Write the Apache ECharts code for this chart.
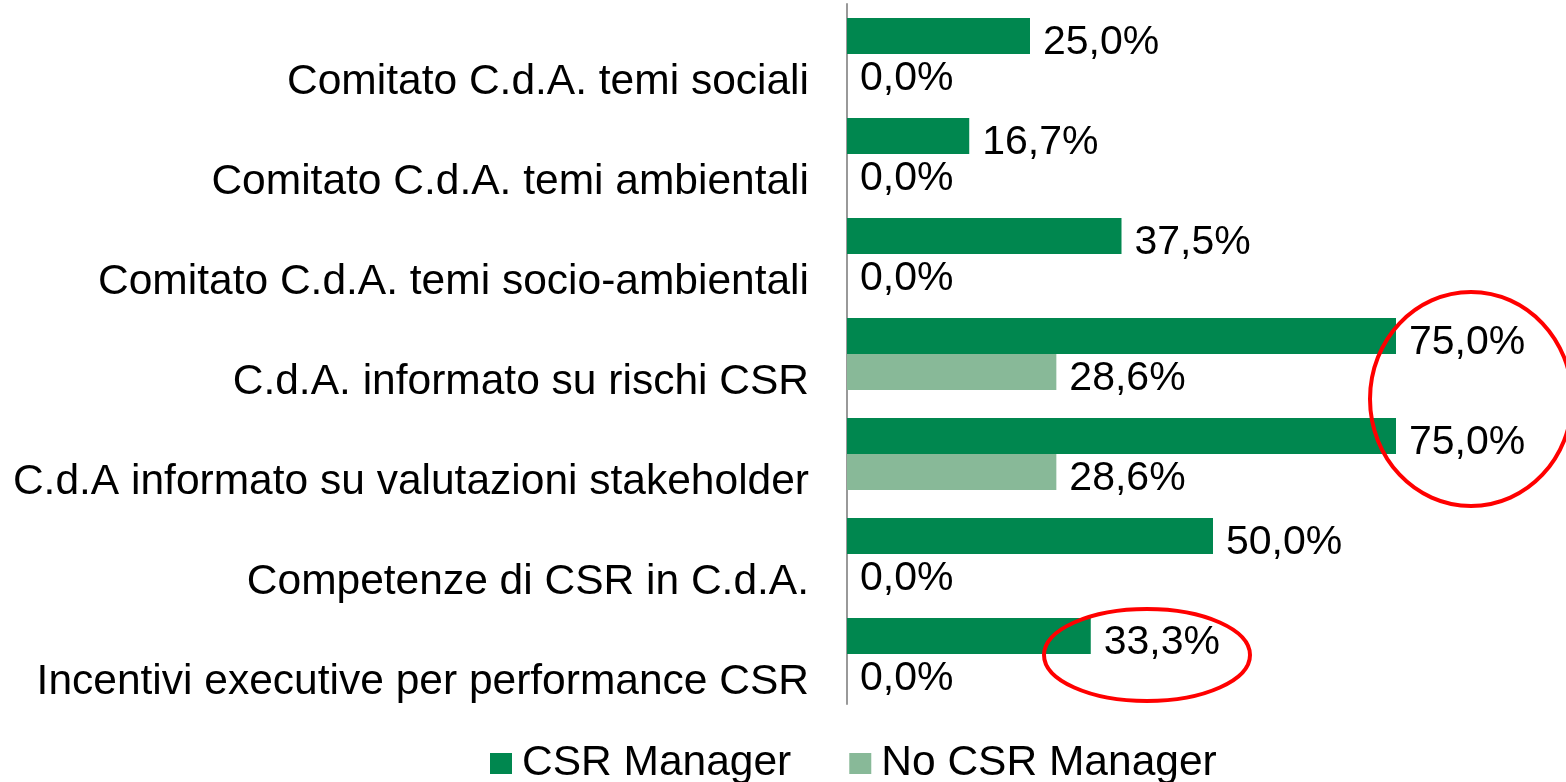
<!DOCTYPE html>
<html>
<head>
<meta charset="utf-8">
<script src="https://cdn.jsdelivr.net/npm/echarts@6/dist/echarts.min.js"></script>
<style>
  html, body { margin: 0; padding: 0; background: #fff; }
  #chart { width: 1566px; height: 782px; }
</style>
</head>
<body>
<div id="chart"></div>
<script>
// categorie (dall'alto in basso)
var categories = [
    'Comitato C.d.A. temi sociali',
    'Comitato C.d.A. temi ambientali',
    'Comitato C.d.A. temi socio-ambientali',
    'C.d.A. informato su rischi CSR',
    'C.d.A informato su valutazioni stakeholder',
    'Competenze di CSR in C.d.A.',
    'Incentivi executive per performance CSR'
];
var seriesNames = ['CSR Manager', 'No CSR Manager'];
var csrManager = [25.0, 16.7, 37.5, 75.0, 75.0, 50.0, 33.3];
var noCsrManager = [0.0, 0.0, 0.0, 28.6, 28.6, 0.0, 0.0];

var FONT = 'Liberation Sans, Arial, sans-serif';

function pct(p) {
    return p.value.toFixed(1).replace('.', ',') + '%';
}

var myChart = echarts.init(document.getElementById('chart'));

var valueLabel = {
    show: true,
    position: 'right',
    distance: 13,
    offset: [0, 7],
    formatter: pct,
    fontSize: 41,
    color: '#000',
    fontFamily: FONT
};

var option = {
    backgroundColor: '#ffffff',
    animation: false,
    grid: {left: 847, top: 4, width: 585.6, height: 700},
    legend: {
        data: seriesNames,
        left: 485,
        top: 737,
        icon: 'rect',
        itemWidth: 22,
        itemHeight: 21,
        itemGap: 58,
        textStyle: {fontSize: 42.5, color: '#000', fontFamily: FONT, padding: [0, 0, 0, 5]}
    },
    xAxis: {
        type: 'value',
        min: 0,
        max: 80,
        show: false
    },
    yAxis: {
        type: 'category',
        data: categories,
        inverse: true,
        axisLine: {show: true, lineStyle: {color: '#999999', width: 2}},
        axisTick: {show: false},
        splitLine: {show: false},
        axisLabel: {
            fontSize: 42.5,
            color: '#000',
            fontFamily: FONT,
            margin: 38,
            verticalAlign: 'top',
            lineHeight: 56
        }
    },
    series: [
        {
            name: seriesNames[0],
            type: 'bar',
            data: csrManager,
            barGap: '0%',
            barCategoryGap: '28%',
            itemStyle: {color: '#00874F'},
            label: valueLabel
        },
        {
            name: seriesNames[1],
            type: 'bar',
            data: noCsrManager,
            barGap: '0%',
            barCategoryGap: '28%',
            itemStyle: {color: '#88B998'},
            label: valueLabel
        }
    ],
    // cerchi rossi di evidenziazione
    graphic: [
        {
            type: 'ellipse',
            shape: {cx: 1471, cy: 399, rx: 101, ry: 107},
            style: {fill: 'none', stroke: '#FF0000', lineWidth: 4},
            z: 100
        },
        {
            type: 'ellipse',
            shape: {cx: 1147, cy: 655, rx: 103, ry: 46},
            style: {fill: 'none', stroke: '#FF0000', lineWidth: 4},
            z: 100
        }
    ]
};

myChart.setOption(option);
</script>
</body>
</html>
